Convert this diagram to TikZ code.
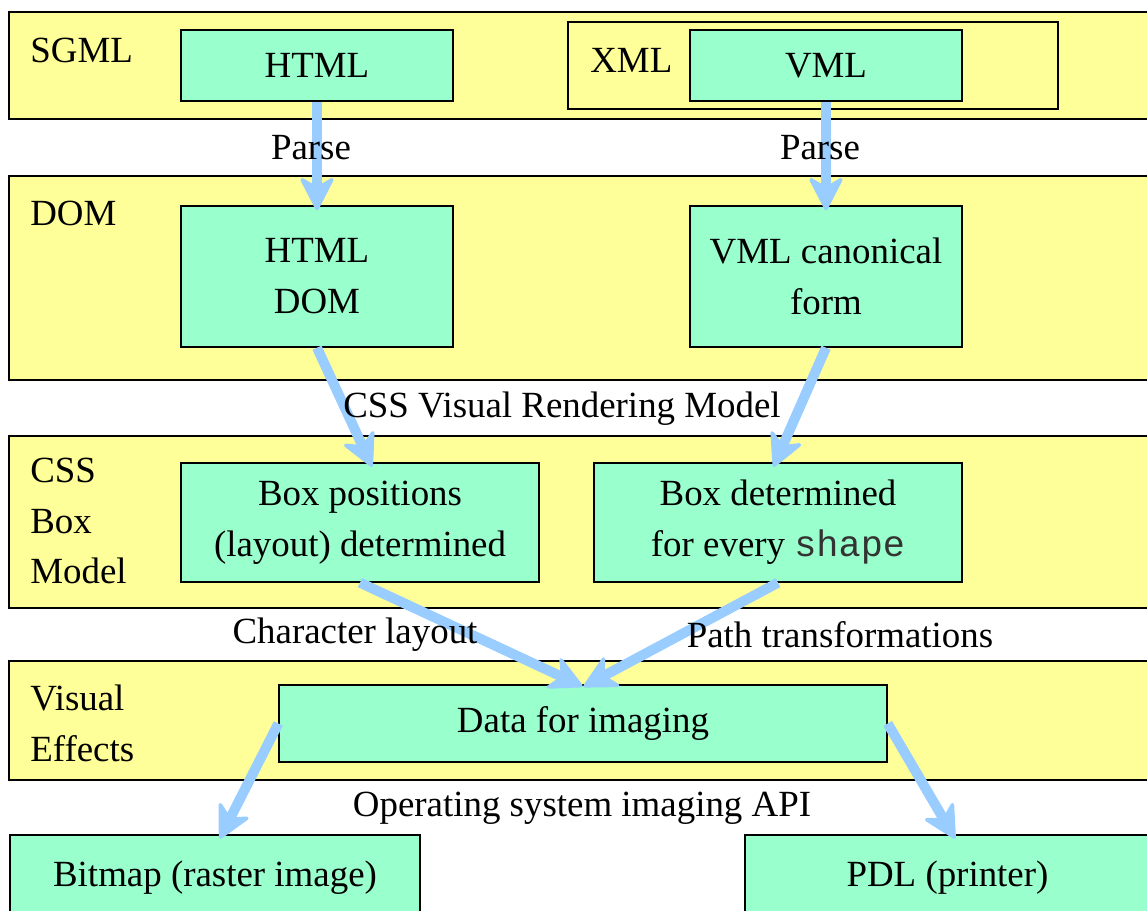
\documentclass[tikz,border=0pt]{standalone}
\usepackage{fontspec}
\setmainfont{Liberation Serif}
\setmonofont{Liberation Mono}
\usetikzlibrary{arrows.meta,calc}
\definecolor{bandyellow}{HTML}{FFFF99}
\definecolor{boxgreen}{HTML}{99FFCC}
\definecolor{arrowblue}{HTML}{99CCFF}
\definecolor{monogray}{HTML}{333333}
\begin{document}
\begin{tikzpicture}[x=0.02cm,y=-0.02cm,
  band/.style={draw=black, fill=bandyellow, line width=0.8pt},
  gbox/.style={draw=black, fill=boxgreen, line width=0.8pt, inner sep=0pt, align=center,
    font=\fontsize{21}{29}\selectfont},
  lbl/.style={inner sep=0pt, align=left, anchor=west, font=\fontsize{21}{29}\selectfont},
  ctext/.style={inner sep=0pt, font=\fontsize{21}{29}\selectfont},
  flow/.style={draw=arrowblue, line width=0.2cm, shorten >=-0.1cm,
    -{Stealth[length=0.74cm,width=0.76cm,inset=0.22cm,line width=2pt,round,fill=arrowblue]}},
]
\useasboundingbox (0,0) rectangle (1147,911);
\clip (0,0) rectangle (1147,911);

% layer bands
\draw[band] (9,12) rectangle (1180,119);
\draw[band] (9,176) rectangle (1180,380);
\draw[band] (9,436) rectangle (1180,608);
\draw[band] (9,661) rectangle (1180,780);
\draw[band] (568,22) rectangle (1058,109);

% band labels
\node[lbl] (lsgml) at (30,50) {SGML};
\node[lbl] (lxml) at (590,60) {XML};
\node[lbl] (ldom) at (30,213) {DOM};
\node[lbl] (lcss) at (30,521) {CSS\\Box\\Model};
\node[lbl] (lvis) at (30,723) {Visual\\Effects};

% boxes
\node[gbox, minimum width=5.44cm, minimum height=1.42cm] (html) at (317,65.5) {HTML};
\node[gbox, minimum width=5.44cm, minimum height=1.42cm] (vml) at (826,65.5) {VML};
\node[gbox, minimum width=5.44cm, minimum height=2.82cm] (htmldom) at (317,276.5) {HTML\\DOM};
\node[gbox, minimum width=5.44cm, minimum height=2.82cm] (vmlcanon) at (826,276.5) {VML canonical\\form};
\node[gbox, minimum width=7.16cm, minimum height=2.38cm] (boxpos) at (360,522.5) {Box positions\\(layout) determined};
\node[gbox, minimum width=7.36cm, minimum height=2.38cm] (boxdet) at (778,522.5)
  {Box determined\\for every {\ttfamily\color{monogray}shape}};
\node[gbox, minimum width=12.16cm, minimum height=1.54cm] (data) at (583,723.5) {Data for imaging};
\node[gbox, minimum width=8.2cm, minimum height=1.72cm] (bitmap) at (215,878) {Bitmap (raster image)};
\node[gbox, minimum width=8.1cm, minimum height=1.72cm] (pdl) at (947.5,878) {PDL (printer)};

% arrows
\draw[flow] (html.south) -- (htmldom.north);
\draw[flow] (vml.south) -- (vmlcanon.north);
\draw[flow] (htmldom.south) -- ([xshift=0.2cm]boxpos.north);
\draw[flow] (vmlcanon.south) -- ([xshift=-0.05cm]boxdet.north);
\draw[flow] (boxpos.south) -- ([xshift=-0.1cm]data.north);
\draw[flow] (boxdet.south) -- ([xshift=0.1cm]data.north);
\draw[flow] (data.west) -- ([xshift=0.14cm]bitmap.north);
\draw[flow] (data.east) -- ([xshift=0.1cm]pdl.north);

% connector labels (drawn over the arrows)
\node[ctext] (parse1) at (311,148) {Parse};
\node[ctext] (parse2) at (820,148) {Parse};
\node[ctext] (cssvrm) at (562,409) {CSS Visual Rendering Model};
\node[ctext] (charlay) at (355,635) {Character layout};
\node[ctext] (pathtr) at (840,635) {Path transformations};
\node[ctext] (osapi) at (582,808) {Operating system imaging API};
\end{tikzpicture}
\end{document}
